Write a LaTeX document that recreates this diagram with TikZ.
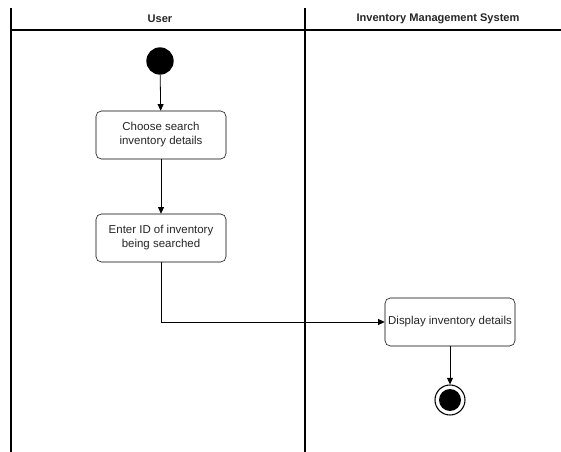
\documentclass[tikz,border=0pt]{standalone}
\usepackage{fontspec}
\setmainfont{Liberation Sans}
\usetikzlibrary{arrows.meta}
\begin{document}
\begin{tikzpicture}[x=0.75pt,y=-0.75pt,
  lane/.style={line width=0.9pt,draw=black},
  act/.style={draw=black,rounded corners=4pt,minimum width=97.5pt,minimum height=36pt,
    align=center,font=\fontsize{8.6}{10.5}\selectfont,inner sep=1pt,fill=white,text=black!85},
  head/.style={font=\bfseries\fontsize{8.3}{9}\selectfont,text=black!85},
  flow/.style={draw=black,line width=0.6pt,-{Triangle[length=5pt,width=4.5pt]}}]
\useasboundingbox (0,0) rectangle (561,452);
% swimlanes
\draw[lane] (11,8) -- (11,452);
\draw[lane] (305,8) -- (305,452);
\draw[lane] (11,30) -- (561,30);
\node[head] (hu) at (160,19) {User};
\node[head] (hs) at (438,19) {Inventory Management System};
% start node
\node[circle,fill=black,minimum size=20.5pt,inner sep=0] (start) at (160,61) {};
% activities
\node[act] (a1) at (161,135) {Choose search\\inventory details};
\node[act] (a2) at (161,238) {Enter ID of inventory\\being searched};
\node[act] (a3) at (450,322) {Display inventory details};
% final node
\node[circle,draw=black,line width=0.8pt,minimum size=22.5pt,inner sep=0] (endo) at (450,400) {};
\node[circle,fill=black,minimum size=16.5pt,inner sep=0] (endi) at (450,400) {};
% control flows
\draw[flow] (start) -- (a1);
\draw[flow] (a1) -- (a2);
\draw[flow] (a2.south) |- (a3.west);
\draw[flow] (a3) -- (endo);
\end{tikzpicture}
\end{document}
